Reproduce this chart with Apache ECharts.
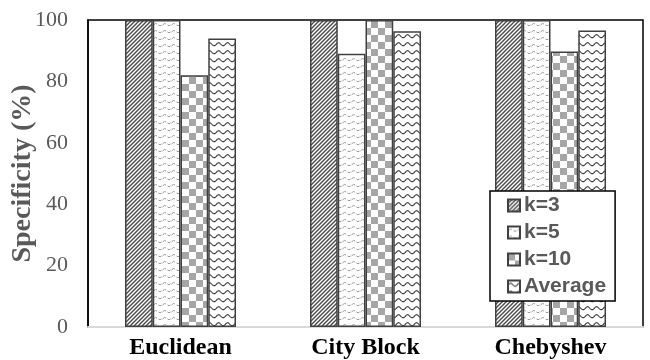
<!DOCTYPE html>
<html>
<head>
<meta charset="utf-8">
<script src="https://cdn.jsdelivr.net/npm/echarts@6/dist/echarts.min.js"></script>
<style>html,body{margin:0;padding:0;background:#fff;}#c{width:650px;height:360px;}</style>
</head>
<body>
<div id="c"></div>
<script>
var categories = ['Euclidean', 'City Block', 'Chebyshev'];
var seriesNames = ['k=3', 'k=5', 'k=10', 'Average'];
var k3 = [100, 100, 100];
var k5 = [100, 89, 100];
var k10 = [82, 100, 89.7];
var avg = [94, 96.3, 96.6];
var yTicks = [0, 20, 40, 60, 80, 100];

function mk(w, h, draw) {
  var c = document.createElement('canvas');
  c.width = w; c.height = h;
  var g = c.getContext('2d');
  g.fillStyle = '#fff'; g.fillRect(0, 0, w, h);
  draw(g);
  return { image: c, repeat: 'repeat' };
}
var patDiag = mk(4, 4, function (g) {
  g.strokeStyle = '#4a4a4a'; g.lineWidth = 1.4;
  g.beginPath();
  g.moveTo(-1, 5); g.lineTo(5, -1);
  g.moveTo(-1, 1); g.lineTo(1, -1);
  g.moveTo(3, 5); g.lineTo(5, 3);
  g.stroke();
});
var patDash = mk(9, 7, function (g) {
  g.strokeStyle = '#9a9a9a'; g.lineWidth = 1;
  g.beginPath();
  g.moveTo(0.5, 4); g.quadraticCurveTo(2.5, 1.5, 4, 3);
  g.moveTo(5.5, 4); g.quadraticCurveTo(7, 5.5, 8.5, 4);
  g.stroke();
});
var patCheck = mk(14, 14, function (g) {
  g.fillStyle = '#a6a6a6';
  g.fillRect(0, 0, 7, 7); g.fillRect(7, 7, 7, 7);
});
var patWave = mk(9, 8, function (g) {
  g.strokeStyle = '#404040'; g.lineWidth = 1.2;
  g.beginPath();
  g.moveTo(0, 5); g.quadraticCurveTo(2.25, 1, 4.5, 4);
  g.quadraticCurveTo(6.75, 7, 9, 4.6);
  g.stroke();
});
var pats = [patDiag, patDash, patCheck, patWave];
var datas = [k3, k5, k10, avg];

var chart = echarts.init(document.getElementById('c'), null, { renderer: 'canvas' });
chart.setOption({
  animation: false,
  grid: { left: 88, right: 7, top: 20, bottom: 33, outerBoundsMode: 'none', containLabel: false,
    show: true, borderColor: '#000', borderWidth: 1.5, backgroundColor: 'transparent' },
  legend: {
    orient: 'vertical', left: 490, top: 191,
    data: seriesNames, icon: 'rect',
    backgroundColor: '#fff', borderColor: '#000', borderWidth: 1.5,
    padding: [4, 9, 4, 17], itemGap: 6, itemWidth: 12, itemHeight: 12,
    textStyle: { fontFamily: 'Liberation Sans', fontWeight: 'bold', fontSize: 21, color: '#595959', padding: [0, 0, 0, -1] }
  },
  xAxis: {
    type: 'category', data: categories,
    axisLine: { lineStyle: { color: '#d9d9d9', width: 2 } },
    axisTick: { show: false },
    axisLabel: { fontFamily: 'Liberation Serif', fontWeight: 'bold', fontSize: 24, color: '#000', margin: 9 }
  },
  yAxis: {
    type: 'value', min: 0, max: 100, interval: 20,
    name: 'Specificity (%)', nameLocation: 'middle', nameGap: 51, nameMoveOverlap: false,
    nameTextStyle: { fontFamily: 'Liberation Serif', fontWeight: 'bold', fontSize: 28, color: '#595959' },
    axisLine: { show: true, lineStyle: { color: '#000', width: 1.5 } },
    axisTick: { show: false },
    splitLine: { show: false },
    axisLabel: { fontFamily: 'Liberation Serif', fontSize: 22, color: '#595959', margin: 20,
      formatter: function (v) { return yTicks.indexOf(v) >= 0 ? String(v) : ''; } }
  },
  series: seriesNames.map(function (n, i) {
    return {
      name: n, type: 'bar', data: datas[i],
      barGap: '0%', barCategoryGap: '40%',
      itemStyle: { color: pats[i], borderColor: '#404040', borderWidth: 1.5 }
    };
  })
});
</script>
</body>
</html>
